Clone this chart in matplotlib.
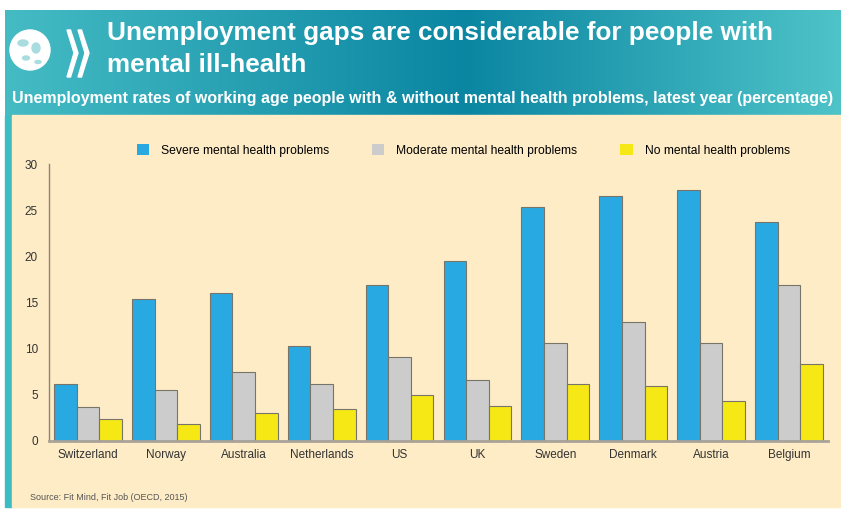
import numpy as np
import matplotlib.pyplot as plt
from matplotlib.patches import Rectangle, Circle, Polygon, Ellipse
from matplotlib.colors import to_rgb

plt.rcParams['font.family'] = ['Liberation Sans', 'DejaVu Sans']

countries = ["Switzerland", "Norway", "Australia", "Netherlands", "US",
             "UK", "Sweden", "Denmark", "Austria", "Belgium"]
severe = [6.1, 15.4, 16.0, 10.3, 16.9, 19.5, 25.3, 26.5, 27.2, 23.7]
moderate = [3.6, 5.5, 7.5, 6.1, 9.1, 6.6, 10.6, 12.9, 10.6, 16.9]
no_problems = [2.4, 1.8, 3.0, 3.4, 5.0, 3.8, 6.1, 5.9, 4.3, 8.3]
series_names = ["Severe mental health problems", "Moderate mental health problems",
                "No mental health problems"]
yticks = [0, 5, 10, 15, 20, 25, 30]

colors = ["#29a9e1", "#cccccc", "#f6e815"]
cream = "#feecc6"

W, H = 841, 509
fig = plt.figure(figsize=(W / 100, H / 100), dpi=100)
fig.patch.set_facecolor("white")

# background drawn in pixel coords
bg = fig.add_axes([0, 0, 1, 1])
bg.axis("off")

# teal header gradient
stops = [(0.0, "#45bcc4"), (0.55, "#0b86a2"), (1.0, "#4ec3c8")]
xs = np.linspace(0, 1, 400)
grad = np.zeros((1, len(xs), 3))
for c in range(3):
    grad[0, :, c] = np.interp(xs, [s[0] for s in stops], [to_rgb(s[1])[c] for s in stops])
bg.imshow(grad, extent=(5, W, 115, 10), aspect="auto", zorder=0)
bg.set_xlim(0, W)
bg.set_ylim(H, 0)

# cream panel with teal strip on the left
bg.add_patch(Rectangle((5, 115), 7, 392, color="#3dbcc4", zorder=1))
bg.add_patch(Rectangle((12, 115), W - 12, 392, color=cream, zorder=1))

# OECD-like logo
bg.add_patch(Circle((30, 50), 20, color="white", zorder=2))
for (ex, ey, ew, eh) in [(23, 43, 10, 6), (36, 48, 8, 10), (26, 58, 7, 4), (38, 62, 6, 3)]:
    bg.add_patch(Ellipse((ex, ey), ew, eh, color="#a8dcdf", zorder=3))
for x0 in (67, 78):
    bg.add_patch(Polygon([(x0, 30), (x0 + 3.5, 30), (x0 + 11, 53), (x0 + 3.5, 77),
                          (x0, 77), (x0 + 7, 53)], closed=True, color="white", zorder=2))

bg.text(107, 33, "Unemployment gaps are considerable for people with",
        color="white", fontsize=18.8, fontweight="bold", va="center", ha="left")
bg.text(107, 65, "mental ill-health",
        color="white", fontsize=18.8, fontweight="bold", va="center", ha="left")
bg.text(12, 98, "Unemployment rates of working age people with & without mental health "
        "problems, latest year (percentage)",
        color="white", fontsize=11.5, fontweight="bold", va="center", ha="left")
bg.text(30, 497, "Source: Fit Mind, Fit Job (OECD, 2015)", color="#555555",
        fontsize=6.5, va="center", ha="left")

# chart
ax = fig.add_axes([49 / W, (H - 440.7) / H, (828 - 49) / W, (440.7 - 164) / H])
ax.set_facecolor("none")
x = np.arange(len(countries))
w = 0.29
handles = []
for i, (vals, col, name) in enumerate(zip([severe, moderate, no_problems], colors, series_names)):
    b = ax.bar(x + (i - 1) * w, vals, w, color=col, edgecolor="#77756a",
               linewidth=0.8, label=name, zorder=2)
    handles.append(b)

ax.set_xlim(-0.5, len(countries) - 0.5)
ax.set_ylim(0, 30)
ax.set_yticks(yticks)
ax.set_xticks(x)
ax.set_xticklabels(countries)
ax.tick_params(axis="both", length=0, labelsize=8.5, colors="#333333")
ax.tick_params(axis="y", pad=8)
ax.tick_params(axis="x", pad=6)
for s in ["top", "right"]:
    ax.spines[s].set_visible(False)
ax.spines["left"].set_color("#8c8478")
ax.spines["left"].set_linewidth(1)
ax.spines["bottom"].set_color("#a8a298")
ax.spines["bottom"].set_linewidth(2)

leg = ax.legend(handles=handles, ncol=3, frameon=False, fontsize=8.7,
                loc="center left", bbox_to_anchor=(0.099, 1.05),
                handlelength=1.0, handleheight=1.1, handletextpad=1.0,
                columnspacing=3.55)
for p in leg.get_patches():
    p.set_linewidth(0)

fig.savefig("out.png", dpi=100)
